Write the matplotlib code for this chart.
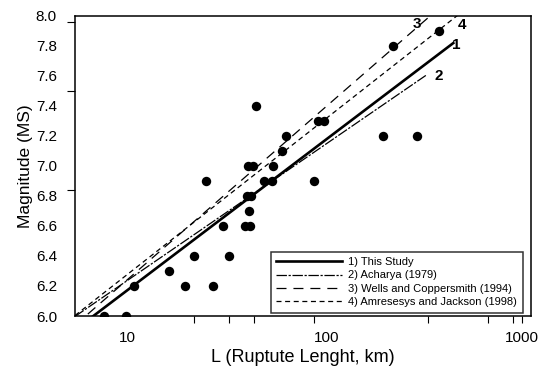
import numpy as np
import matplotlib
matplotlib.use("Agg")
import matplotlib.pyplot as plt
import matplotlib.transforms as mtransforms
from matplotlib.ticker import FixedLocator, NullFormatter

plt.rcParams['font.family'] = ['Liberation Sans', 'DejaVu Sans']
plt.rcParams['lines.scale_dashes'] = False

# Observed earthquakes: rupture length (km) and magnitude Ms
rupture_length = [7.7, 9.85, 10.9, 16.3, 19.6, 21.7, 26.8, 32.5,
                  24.8, 30.1, 38.9, 41.2, 40.0, 41.6, 40.9,
                  40.4, 42.8, 53.9, 48.4, 52.9, 86.1, 59.4, 62.4,
                  90.5, 96.6, 44.2, 191, 281, 215, 363]
magnitude = [6.0, 6.0, 6.2, 6.3, 6.2, 6.4, 6.2, 6.4,
             6.9, 6.6, 6.6, 6.6, 6.8, 6.8, 6.7,
             7.0, 7.0, 7.0, 6.9, 6.9, 6.9, 7.1, 7.2,
             7.3, 7.3, 7.4, 7.2, 7.2, 7.8, 7.9]

# Regression relations Ms = a + b*log10(L)
rel_labels = ["1) This Study", "2) Acharya (1979)",
              "3) Wells and Coppersmith (1994)", "4) Amresesys and Jackson (1998)"]
rel_a = [5.16, 5.32, 5.08, 5.23]
rel_b = [1.01, 0.915, 1.16, 1.045]
rel_Lmin = [5.5, 5.5, 5.5, 5.5]
rel_Lmax = [428, 312, 1000, 1000]
rel_tags = ["1", "2", "3", "4"]

fig = plt.figure(figsize=(5.41, 3.71), dpi=100)
ax = fig.add_axes([0.1386, 0.1482, 0.8429, 0.8095])

styles = [
    dict(color='black', lw=1.9, linestyle='-'),
    dict(color='black', lw=0.9, dashes=(7.5, 1.2, 1.6, 1.2)),
    dict(color='black', lw=0.9, dashes=(7.2, 5.0)),
    dict(color='black', lw=0.9, dashes=(3.6, 2.6)),
]
for lab, a, b, l0, l1, st in zip(rel_labels, rel_a, rel_b, rel_Lmin, rel_Lmax, styles):
    L = np.logspace(np.log10(l0), np.log10(l1), 200)
    ax.plot(L, a + b * np.log10(L), label=lab, **st)

ax.scatter(rupture_length, magnitude, s=46, color='black', zorder=5, linewidths=0)

# line number tags
tag_pos = [(445, 7.805), (360, 7.598), (281, 7.945), (472, 7.938)]
for t, (xx, yy) in zip(rel_tags, tag_pos):
    ax.text(xx, yy, t, fontsize=11, fontweight='bold', ha='center', va='center')

ax.set_xscale('log')
ax.set_xlim(5.495, 1047)
ax.set_ylim(6.0, 8.0)

ax.xaxis.set_major_locator(FixedLocator([10, 100, 1000]))
ax.set_xticklabels(['10', '100', '1000'])
ax.xaxis.set_minor_locator(FixedLocator([21.7, 32.5, 43.3, 86.1, 320, 638, 851, 944]))
ax.xaxis.set_minor_formatter(NullFormatter())
ax.tick_params(axis='x', which='major', length=0, pad=11, labelsize=11)
ax.tick_params(axis='x', which='minor', length=5, width=0.8, direction='out')
# keep the last label inside the canvas
lbl = ax.get_xticklabels()[-1]
lbl.set_transform(lbl.get_transform() + mtransforms.ScaledTranslation(-4 / 72, 0, fig.dpi_scale_trans))

yt = np.round(np.arange(6.0, 8.01, 0.2), 1)
ax.set_yticks(yt)
ax.set_yticklabels([f"{v:.1f}" for v in yt])
ax.yaxis.set_minor_locator(FixedLocator([7.96, 7.5, 6.84, 8.0]))
ax.tick_params(axis='y', which='major', length=0, pad=13, labelsize=11)
ax.tick_params(axis='y', which='minor', length=6, width=0.8, direction='out')

for sp in ax.spines.values():
    sp.set_linewidth(1.1)

ax.set_xlabel("L (Ruptute Lenght, km)", fontsize=13, labelpad=3)
ax.set_ylabel("Magnitude (MS)", fontsize=12.5, labelpad=2)

leg = ax.legend(loc='lower right', bbox_to_anchor=(0.982, 0.011), borderaxespad=0,
                fontsize=8, handlelength=5.9, frameon=True, fancybox=False,
                edgecolor='black', labelspacing=0.3, handletextpad=0.6,
                borderpad=0.5)
leg.get_frame().set_linewidth(1.1)

fig.savefig("out.png", dpi=100)
